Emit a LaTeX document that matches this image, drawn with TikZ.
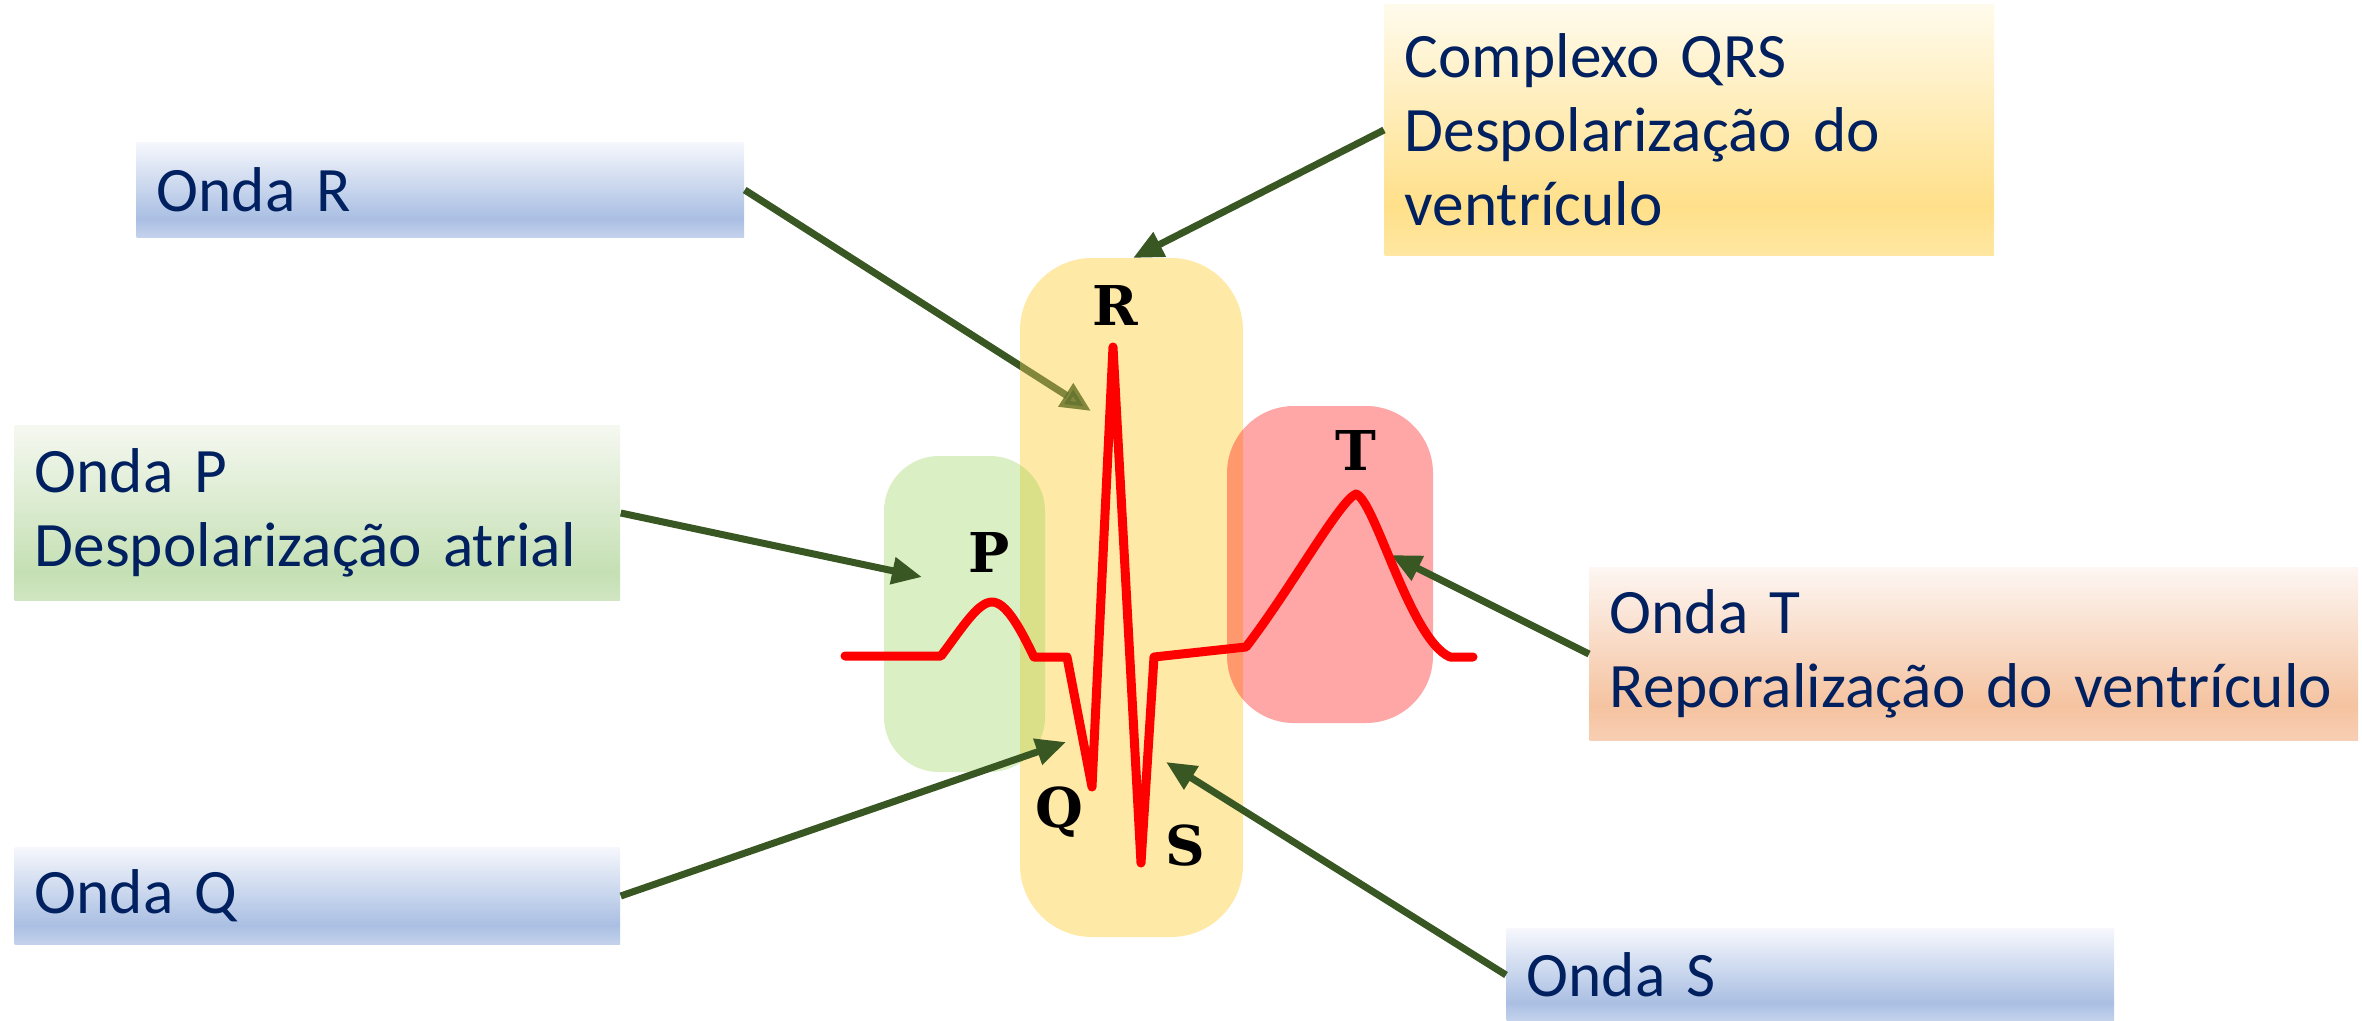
\documentclass[tikz,border=0pt]{standalone}
\usepackage{fontspec}
\usetikzlibrary{arrows.meta}
\newfontfamily\rotfont{Carlito}[WordSpace=0.8]
\newfontfamily\letrafont{DejaVu Serif}
\definecolor{azul}{RGB}{0,32,96}
\definecolor{seta}{RGB}{56,87,35}
\definecolor{azulA}{RGB}{245,247,252}
\definecolor{azulB}{RGB}{170,191,227}
\definecolor{azulC}{RGB}{196,210,236}
\definecolor{verdeA}{RGB}{245,248,240}
\definecolor{verdeB}{RGB}{197,224,180}
\definecolor{verdeC}{RGB}{208,230,194}
\definecolor{ouroA}{RGB}{255,251,236}
\definecolor{ouroB}{RGB}{255,224,138}
\definecolor{ouroC}{RGB}{255,231,162}
\definecolor{salmaoA}{RGB}{253,246,242}
\definecolor{salmaoB}{RGB}{245,195,160}
\definecolor{salmaoC}{RGB}{248,207,180}
\definecolor{amarelo}{RGB}{255,217,102}
\definecolor{verdeP}{RGB}{146,208,80}
\pgfdeclareverticalshading{azulgrad}{100bp}{color(0bp)=(azulC); color(25bp)=(azulC); color(35bp)=(azulB); color(75bp)=(azulA); color(100bp)=(azulA)}
\pgfdeclareverticalshading{verdegrad}{100bp}{color(0bp)=(verdeC); color(25bp)=(verdeC); color(33bp)=(verdeB); color(75bp)=(verdeA); color(100bp)=(verdeA)}
\pgfdeclareverticalshading{ourograd}{100bp}{color(0bp)=(ouroC); color(25bp)=(ouroC); color(35bp)=(ouroB); color(75bp)=(ouroA); color(100bp)=(ouroA)}
\pgfdeclareverticalshading{salmaograd}{100bp}{color(0bp)=(salmaoC); color(25bp)=(salmaoC); color(35bp)=(salmaoB); color(75bp)=(salmaoA); color(100bp)=(salmaoA)}
\tikzset{
  rotulo/.style={anchor=west, font=\rotfont\fontsize{18}{21}\selectfont, text=azul,
    align=left, inner xsep=0.2cm, inner ysep=0pt},
  letra/.style={anchor=base, font=\letrafont\bfseries\fontsize{15.6}{18}\selectfont, inner sep=0pt},
  seta/.style={draw=seta, line width=0.07cm, -{Triangle[length=0.3cm,width=0.26cm]}},
  ecg/.style={draw=red, line width=0.09cm, line join=round, line cap=round}
}
\begin{document}
\begin{tikzpicture}[x=0.01cm, y=-0.01cm]
    \useasboundingbox (0,0) rectangle (2362,1021);
    \node[rotulo, shading=azulgrad, minimum width=6.07cm, minimum height=0.95cm, text width=5.67cm] (ondaR) at (136,190) {Onda R};
    \node[rotulo, shading=ourograd, minimum width=6.09cm, minimum height=2.51cm, text width=5.69cm] (qrs) at (1384,130) {Complexo QRS\\Despolarização do\\ventrículo};
    \node[rotulo, shading=verdegrad, minimum width=6.05cm, minimum height=1.75cm, text width=5.65cm] (ondaP) at (14,513) {Onda P\\Despolarização atrial};
    \node[rotulo, shading=salmaograd, minimum width=7.68cm, minimum height=1.73cm, text width=7.28cm] (ondaT) at (1589,654) {Onda T\\Reporalização do ventrículo};
    \node[rotulo, shading=azulgrad, minimum width=6.05cm, minimum height=0.97cm, text width=5.65cm] (ondaQ) at (14,896) {Onda Q};
    \node[rotulo, shading=azulgrad, minimum width=6.07cm, minimum height=0.92cm, text width=5.67cm] (ondaS) at (1506,975) {Onda S};
    \coordinate (pR) at (1091,411);
    \coordinate (pQRS) at (1133,258);
    \coordinate (pP) at (922,577);
    \coordinate (pT) at (1391,555);
    \coordinate (pQ) at (1066,742);
    \coordinate (pS) at (1166,762);
    \draw[seta] (ondaR.east) -- (pR);
    \fill[amarelo, fill opacity=0.58, rounded corners=0.72cm] (1020,258) rectangle (1243,937);
    \fill[verdeP, fill opacity=0.34, rounded corners=0.55cm] (884,456) rectangle (1045,772);
    \fill[red, fill opacity=0.345, rounded corners=0.67cm] (1227,406) rectangle (1433,723);
    \draw[seta, draw opacity=0.35, fill opacity=0.35] (ondaR.east) -- (pR);
    \draw[seta] (qrs.west) -- (pQRS);
    \draw[seta] (ondaP.east) -- (pP);
    \draw[seta] (ondaT.west) -- (pT);
    \draw[seta] (ondaQ.east) -- (pQ);
    \draw[seta] (ondaS.west) -- (pS);
    \draw[ecg] (845,656) -- (941,656) .. controls (962,628) and (978,602) .. (992,602)
      .. controls (1006,602) and (1020,628) .. (1034,657) -- (1067,657) -- (1092,787)
      -- (1113,347) -- (1141,863) -- (1154,657) -- (1246,647)
      .. controls (1290,590) and (1340,500) .. (1356,494)
      .. controls (1375,500) and (1410,640) .. (1450,657) -- (1473,657);
    \node[letra] (lR) at (1115,325) {R};
    \node[letra] (lP) at (989,572) {P};
    \node[letra] (lT) at (1356,470) {T};
    \node[letra] (lQ) at (1059,827) {Q};
    \node[letra] (lS) at (1185,865) {S};
\end{tikzpicture}
\end{document}
